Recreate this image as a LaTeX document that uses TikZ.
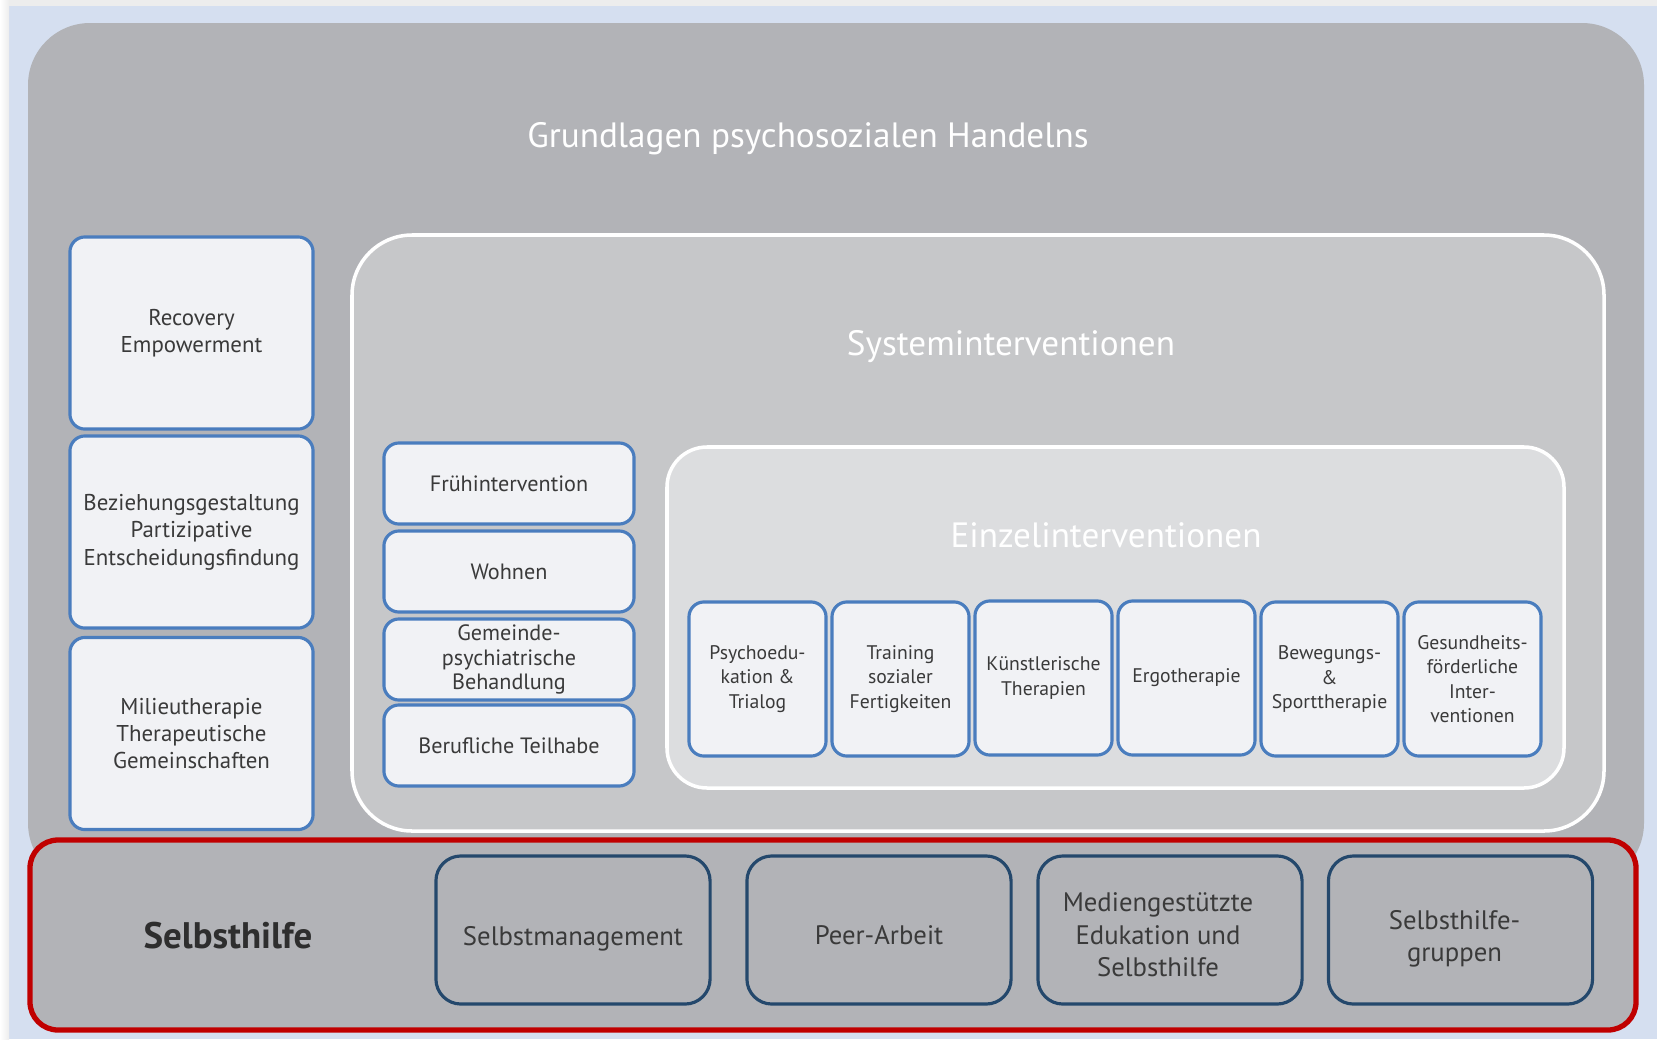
\documentclass[tikz,border=0pt]{standalone}
\usepackage{fontspec}
\setmainfont{PT Sans}

\definecolor{bgblue}{HTML}{D5DFF0}
\definecolor{stripgray}{HTML}{EDEDED}
\definecolor{basegray}{HTML}{B2B3B7}
\definecolor{sysgray}{HTML}{C6C7C9}
\definecolor{einzgray}{HTML}{DCDDDF}
\definecolor{boxfill}{HTML}{F1F2F5}
\definecolor{boxblue}{HTML}{4A7DBE}
\definecolor{darkblue}{HTML}{24486C}
\definecolor{framered}{HTML}{C00000}
\definecolor{txtgray}{HTML}{3A3A3A}

\def \ew {1.37cm}
\def \eh {1.54cm}

\begin{document}
\begin{tikzpicture}[x=0.01cm,y=-0.01cm,
    bluebox/.style={draw=boxblue, line width=0.9pt, fill=boxfill, rounded corners=0.15cm,
      align=center, text=txtgray, inner sep=1pt},
    leftbox/.style={bluebox, minimum width=2.43cm, minimum height=1.92cm,
      font=\fontsize{6.5}{7.8}\selectfont},
    midbox/.style={bluebox, minimum width=2.5cm, minimum height=0.81cm,
      font=\fontsize{6.3}{6.9}\selectfont},
    einzbox/.style={bluebox, minimum width=\ew, minimum height=\eh,
      font=\fontsize{5.6}{6.9}\selectfont},
    selbbox/.style={draw=darkblue, line width=0.9pt, rounded corners=0.25cm,
      minimum width=2.64cm, minimum height=1.48cm},
    selbtext/.style={yshift=-0.05cm, align=center, text=txtgray,
      font=\fontsize{7.6}{9.2}\selectfont},
    headline/.style={text=white, font=\fontsize{10}{12}\selectfont}]
      \useasboundingbox (0,0) rectangle (1657,1039);
      %background
      \fill[bgblue] (0,0) rectangle (1657,1039);
      \fill[stripgray] (0,0) rectangle (1657,6);
      \shade[left color=white, right color=stripgray] (0,0) rectangle (9,1039);
      %containers
      \fill[basegray, rounded corners=0.62cm] (28,23) rectangle (1644,885);
      \draw[white, line width=1pt, fill=sysgray, rounded corners=0.6cm] (352,235) rectangle (1604,831);
      \draw[white, line width=1pt, fill=einzgray, rounded corners=0.4cm] (667,447) rectangle (1564,788);
      %titles
      \node[headline] (grund) at (808,139) {Grundlagen psychosozialen Handelns};
      \node[headline] (system) at (1011,347) {Systeminterventionen};
      \node[headline] (einzel) at (1106,535) {Einzelinterventionen};
      %left column
      \node[leftbox] (recov) at (191.5,333) {Recovery\\Empowerment};
      \node[leftbox] (bezieh) at (191.5,532) {Beziehungsgestaltung\\Partizipative\\Entscheidungsfindung};
      \node[leftbox] (milieu) at (191.5,733.5) {Milieutherapie\\Therapeutische\\Gemeinschaften};
      %system column
      \node[midbox] (frueh) at (509,483.5) {Frühintervention};
      \node[midbox] (wohnen) at (509,571.5) {Wohnen};
      \node[midbox] (gemeinde) at (509,659.5) {Gemeinde-\\psychiatrische\\Behandlung};
      \node[midbox] (beruf) at (509,745.5) {Berufliche Teilhabe};
      %single interventions
      \node[einzbox] (psycho) at (757.5,679) {Psychoedu-\\kation \&\\Trialog};
      \node[einzbox] (training) at (900.5,679) {Training\\sozialer\\Fertigkeiten};
      \node[einzbox] (kunst) at (1043.5,678) {Künstlerische\\Therapien};
      \node[einzbox] (ergo) at (1186.5,678) {Ergotherapie};
      \node[einzbox] (sport) at (1329.5,679) {Bewegungs-\\\&\\Sporttherapie};
      \node[einzbox] (gesund) at (1472.5,679) {Gesundheits-\\förderliche\\Inter-\\ventionen};
      %self help
      \draw[framered, line width=1.5pt, fill=basegray, rounded corners=0.28cm] (30,840) rectangle (1636,1030);
      \node[text=txtgray!80!black, font=\fontsize{10.5}{12}\selectfont\bfseries] (selbst) at (228,936) {Selbsthilfe};
      \node[selbbox, minimum width=2.74cm, label={[selbtext, yshift=-0.04cm]center:Selbstmanagement}] (manage) at (573,930) {};
      \node[selbbox, label={[selbtext]center:Peer-Arbeit}] (peer) at (879,930) {};
      \node[selbbox, label={[selbtext, xshift=-0.12cm]center:Mediengestützte\\Edukation und\\Selbsthilfe}] (medien) at (1170,930) {};
      \node[selbbox, label={[selbtext, xshift=-0.06cm, yshift=-0.04cm]center:Selbsthilfe-\\gruppen}] (gruppen) at (1460.5,930) {};
    \end{tikzpicture}
\end{document}
